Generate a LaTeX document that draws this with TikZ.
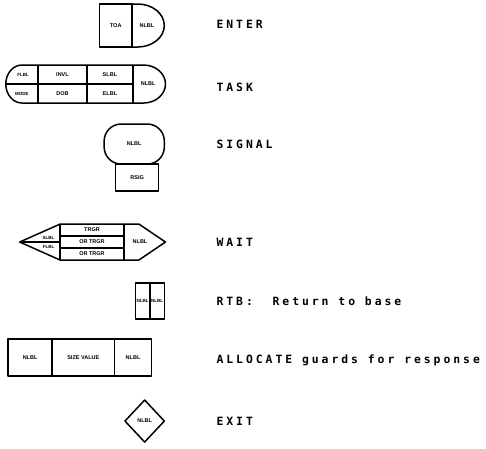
\documentclass[tikz,border=0pt]{standalone}
\usepackage{fontspec}
\newfontfamily\mainlbl[LetterSpace=26]{DejaVu Sans Mono}
\newfontfamily\celllbl{Liberation Sans}
\begin{document}
\begin{tikzpicture}[x=1.157pt,y=-1pt,
  shp/.style={line width=1.5pt, line join=round},
  cell/.style={inner sep=0pt, font=\celllbl\bfseries\fontsize{5.5}{5.5}\selectfont},
  smallcell/.style={inner sep=0pt, font=\celllbl\bfseries\fontsize{4.5}{4.5}\selectfont},
  lbl/.style={anchor=base west, inner sep=0pt, font=\mainlbl\bfseries\fontsize{11.4}{12}\selectfont}]
\useasboundingbox (0,0) rectangle (420,448);
% ENTER
\draw[shp] (114,4) -- (86,4) -- (86,47) -- (114,47) -- cycle;
\draw[shp] (114,4) -- (119,4) arc[start angle=90,end angle=-90,x radius=26.6pt,y radius=21.5pt] -- (114,47);
\node[cell] (toa) at (100,25.5) {TOA};
\node[cell] (enl) at (127,25.5) {NLBL};
\node[lbl] (tenter) at (187,28) {ENTER};
% TASK
\draw[shp] (19,65) -- (124,65) arc[start angle=90,end angle=-90,x radius=22pt,y radius=19pt] -- (19,103) arc[start angle=270,end angle=90,x radius=16.2pt,y radius=19pt] -- cycle;
\draw[shp] (33,65) -- (33,103) (75,65) -- (75,103) (115,65) -- (115,103) (5,84) -- (115,84);
\node[smallcell] (flbl) at (20,75) {FLBL};
\node[smallcell] (mode) at (19,93.5) {MODE};
\node[cell] (invl) at (54,75) {INVL};
\node[cell] (dob) at (54,93.5) {DOB};
\node[cell] (slbl) at (95,75) {SLBL};
\node[cell] (elbl) at (95,93.5) {ELBL};
\node[cell] (tnl) at (128,84) {NLBL};
\node[lbl] (ttask) at (187,91) {TASK};
% SIGNAL
\draw[shp, rounded corners=17pt] (90,124) rectangle (142,164);
\draw[shp] (100,164) rectangle (137,191);
\node[cell] (snl) at (116,144) {NLBL};
\node[cell] (rsig) at (118.5,178) {RSIG};
\node[lbl] (tsignal) at (187,148) {SIGNAL};
% WAIT
\draw[shp] (17,242) -- (52,224) -- (120,224) -- (143,242) -- (120,260) -- (52,260) -- cycle;
\draw[shp] (52,224) -- (52,260) (107,224) -- (107,260) (52,236) -- (107,236) (52,248) -- (107,248) (17,242) -- (52,242);
\node[cell] (trgr) at (79.5,230) {TRGR};
\node[cell] (or1) at (79.5,242) {OR TRGR};
\node[cell] (or2) at (79.5,254) {OR TRGR};
\node[cell] (wnl) at (121,242) {NLBL};
\node[smallcell] (wsl) at (42,237.5) {SLBL};
\node[smallcell] (wfl) at (42,246.5) {FLBL};
\node[lbl] (twait) at (187,246) {WAIT};
% RTB
\draw[shp] (117,283) rectangle (142,319) (129.5,283) -- (129.5,319);
\node[smallcell] (r1) at (123.25,301) {NLBL};
\node[smallcell] (r2) at (135.75,301) {NLBL};
\node[lbl] (trtb) at (187,305) {RTB:~~Return to base};
% ALLOCATE
\draw[shp] (7,339) rectangle (131,376) (45,339) -- (45,376) (99,339) -- (99,376);
\node[cell] (a1) at (26,357.5) {NLBL};
\node[cell] (a2) at (72,357.5) {SIZE VALUE};
\node[cell] (a3) at (115,357.5) {NLBL};
\node[lbl] (talloc) at (187,363) {ALLOCATE guards for response};
% EXIT
\draw[shp] (125,400) -- (142,421) -- (125,442) -- (108,421) -- cycle;
\node[cell] (xnl) at (125,421) {NLBL};
\node[lbl] (texit) at (187,425) {EXIT};
\end{tikzpicture}
\end{document}
